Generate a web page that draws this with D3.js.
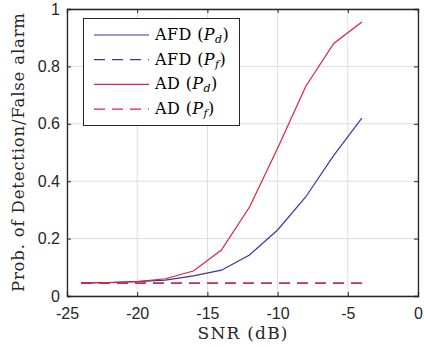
<!DOCTYPE html>
<html>
<head>
<meta charset="utf-8">
<script src="https://cdn.jsdelivr.net/npm/d3@7"></script>
<style>
  body { margin: 0; background: #fff; }
  svg { display: block; }
</style>
</head>
<body>
<svg id="chart" width="424" height="347"></svg>
<script>
// data
const snr = [-24, -22, -20, -18, -16, -14, -12, -10, -8, -6, -4];
const afdPd = [0.046, 0.047, 0.050, 0.055, 0.070, 0.090, 0.143, 0.230, 0.345, 0.490, 0.620];
const afdPf = [0.045, 0.045, 0.045, 0.045, 0.045, 0.045, 0.045, 0.045, 0.045, 0.045, 0.045];
const adPd  = [0.045, 0.047, 0.050, 0.060, 0.087, 0.160, 0.310, 0.515, 0.730, 0.880, 0.955];
const adPf  = [0.045, 0.045, 0.045, 0.045, 0.045, 0.045, 0.045, 0.045, 0.045, 0.045, 0.045];
const xTicks = [-25, -20, -15, -10, -5, 0];
const yTicks = [0, 0.2, 0.4, 0.6, 0.8, 1];

const blue = '#3a36a0', red = '#e4213b';
const serif = '"DejaVu Serif", serif';
const sans = '"Liberation Sans", Arial, Helvetica, sans-serif';
const series = [
  { name: 'AFD', sub: 'd', vals: afdPd, color: blue, dash: null },
  { name: 'AFD', sub: 'f', vals: afdPf, color: blue, dash: '11,7' },
  { name: 'AD',  sub: 'd', vals: adPd,  color: red,  dash: null },
  { name: 'AD',  sub: 'f', vals: adPf,  color: red,  dash: '11,7' },
];

const m = { left: 67, top: 9, right: 418, bottom: 296 };
const svg = d3.select('#chart');

const x = d3.scaleLinear().domain([-25, 0]).range([m.left, m.right]);
const y = d3.scaleLinear().domain([0, 1]).range([m.bottom, m.top]);

// grid
const grid = svg.append('g').attr('stroke', '#dedede').attr('stroke-width', 1);
xTicks.forEach(t => grid.append('line').attr('x1', x(t)).attr('x2', x(t)).attr('y1', m.top).attr('y2', m.bottom));
yTicks.forEach(t => grid.append('line').attr('x1', m.left).attr('x2', m.right).attr('y1', y(t)).attr('y2', y(t)));

// axes
const fmt = d => String(d);
const xa = svg.append('g').attr('transform', `translate(0,${m.bottom})`)
  .call(d3.axisBottom(x).tickValues(xTicks).tickSize(-4).tickPadding(12).tickFormat(fmt));
const xt = svg.append('g').attr('transform', `translate(0,${m.top})`)
  .call(d3.axisTop(x).tickValues(xTicks).tickSize(-4).tickFormat(''));
const ya = svg.append('g').attr('transform', `translate(${m.left},0)`)
  .call(d3.axisLeft(y).tickValues(yTicks).tickSize(-4).tickPadding(7).tickFormat(fmt));
const yr = svg.append('g').attr('transform', `translate(${m.right},0)`)
  .call(d3.axisRight(y).tickValues(yTicks).tickSize(-4).tickFormat(''));
[xa, xt, ya, yr].forEach(g => {
  g.selectAll('path, line').attr('stroke', '#262626');
  g.select('.domain').attr('stroke-width', 1.3);
  g.selectAll('text').attr('font-family', sans).attr('font-size', 16).attr('fill', '#262626');
});

// lines
const line = d3.line().x((d, i) => x(snr[i])).y(d => y(d));
series.forEach(s => {
  svg.append('path').datum(s.vals)
    .attr('fill', 'none').attr('stroke', s.color).attr('stroke-width', 1.2)
    .attr('stroke-dasharray', s.dash).attr('d', line);
});

// axis labels
svg.append('text').attr('x', (m.left + m.right) / 2).attr('y', 339)
  .attr('font-family', serif).attr('font-size', 17).attr('fill', '#262626')
  .attr('text-anchor', 'middle').attr('textLength', 90).attr('lengthAdjust', 'spacing')
  .text('SNR (dB)');
svg.append('text').attr('transform', `translate(24,${(m.top + m.bottom) / 2}) rotate(-90)`)
  .attr('font-family', serif).attr('font-size', 16.5).attr('fill', '#262626')
  .attr('text-anchor', 'middle').attr('textLength', 279).attr('lengthAdjust', 'spacing')
  .text('Prob. of Detection/False alarm');

// legend
const leg = svg.append('g');
leg.append('rect').attr('x', 83.5).attr('y', 18.5).attr('width', 156).attr('height', 107)
  .attr('fill', '#fff').attr('stroke', '#262626').attr('stroke-width', 1);
series.forEach((s, i) => {
  const ly = 35 + i * 24.7;
  leg.append('line').attr('x1', 94).attr('x2', 149).attr('y1', ly).attr('y2', ly)
    .attr('stroke', s.color).attr('stroke-width', 1.2).attr('stroke-dasharray', s.dash);
  const t = leg.append('text').attr('x', 155).attr('y', ly + 5)
    .attr('font-family', serif).attr('font-size', 16).attr('fill', '#000')
    .attr('letter-spacing', 0.4);
  t.append('tspan').text(s.name + ' (');
  t.append('tspan').attr('font-style', 'italic').text('P');
  t.append('tspan').attr('font-style', 'italic').attr('font-size', 11).attr('dy', 3).text(s.sub);
  t.append('tspan').attr('dy', -3).text(')');
});
</script>
</body>
</html>
